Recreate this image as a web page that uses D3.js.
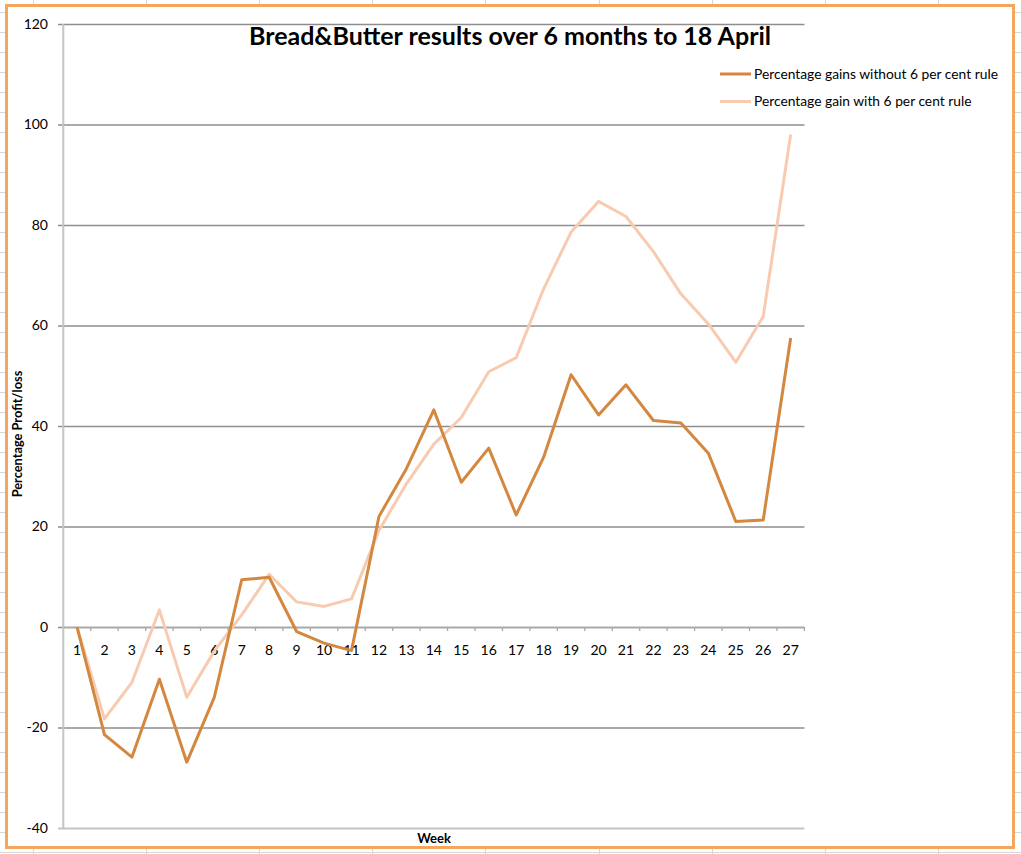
<!DOCTYPE html>
<html>
<head>
<meta charset="utf-8">
<script src="https://cdn.jsdelivr.net/npm/d3@7"></script>
<style>
  body { margin: 0; background: #fff; }
  text { font-family: Lato, "Open Sans", sans-serif; fill: #000; }
</style>
</head>
<body>
<script>
// weeks and the two series
var weeks = d3.range(1, 28);
var gainsWithout = [0, -21.4, -25.9, -10.4, -26.9, -14.0, 9.4, 9.9, -0.9, -3.2, -4.7, 22.0, 31.5, 43.2,
	28.8, 35.6, 22.3, 33.8, 50.2, 42.2, 48.2, 41.1, 40.6, 34.6, 21.0, 21.3, 57.5];
var gainsWith = [0, -18.3, -11.0, 3.4, -14.0, -4.8, 2.4, 10.5, 5.0, 4.1, 5.6, 19.2, 28.5, 36.4,
	41.7, 50.8, 53.6, 67.3, 78.6, 84.7, 81.7, 74.7, 66.3, 60.3, 52.7, 61.8, 98.0];
var yTicks = [-40, -20, 0, 20, 40, 60, 80, 100, 120];
var seriesNames = ["Percentage gains without 6 per cent rule", "Percentage gain with 6 per cent rule"];
var colors = ["#d4873f", "#f8cbb1"];

var width = 1021, height = 854;
var svg = d3.select("body").append("svg")
	.attr("width", width)
	.attr("height", height);

// spreadsheet cells behind the chart
var sheet = svg.append("g").attr("stroke", "#d6d6d6").attr("stroke-width", 1);
for (var gy = 12; gy < height; gy += 20){
	sheet.append("line").attr("x1", 0).attr("x2", width).attr("y1", gy + 0.5).attr("y2", gy + 0.5);
}
for (var gx = 33; gx < width; gx += 113.1){
	sheet.append("line").attr("x1", Math.round(gx) + 0.5).attr("x2", Math.round(gx) + 0.5).attr("y1", 0).attr("y2", height);
}

// chart area
svg.append("rect")
	.attr("x", 6.5).attr("y", 5.5)
	.attr("width", 1007).attr("height", 842)
	.attr("fill", "#fff")
	.attr("stroke", "#f6a55c")
	.attr("stroke-width", 3);

var x = d3.scaleBand().domain(weeks).range([63.3, 804.4]).padding(0);
var y = d3.scaleLinear().domain([-40, 120]).range([828, 24]);
var cx = function(w){ return x(w) + x.bandwidth() / 2; };

// horizontal gridlines and y labels
var yAxis = d3.axisLeft(y).tickValues(yTicks)
	.tickFormat(function(d){ return String(d); })
	.tickSize(-(804.4 - 58)).tickPadding(10);
var yg = svg.append("g").attr("transform", "translate(58,0)").call(yAxis);
yg.select(".domain").remove();
yg.selectAll(".tick line")
	.attr("stroke", function(d){ return d === -40 ? "#c4c4c4" : "#8e8e8e"; })
	.attr("stroke-width", function(d){ return d === -40 ? 2 : 1.3; });
yg.selectAll(".tick text")
	.attr("x", -10)
	.style("font-size", "14px")
	.style("font-family", "Lato, sans-serif");

// vertical axis line
svg.append("line")
	.attr("x1", 63.3).attr("x2", 63.3)
	.attr("y1", y(120)).attr("y2", y(-40))
	.attr("stroke", "#c4c4c4").attr("stroke-width", 2);

// category axis sitting on zero
var xAxis = d3.axisBottom(x).tickSize(0).tickPadding(18);
var xg = svg.append("g").attr("transform", "translate(0," + y(0) + ")").call(xAxis);
xg.select(".domain").attr("stroke", "#a8a8a8").attr("stroke-width", 1.5);
xg.selectAll(".tick text")
	.style("font-size", "14px")
	.style("font-family", "Lato, sans-serif");
svg.append("g").selectAll("line")
	.data(d3.range(1, 28))
	.enter().append("line")
	.attr("x1", function(i){ return 63.3 + i * x.bandwidth(); })
	.attr("x2", function(i){ return 63.3 + i * x.bandwidth(); })
	.attr("y1", y(0)).attr("y2", y(0) + 4)
	.attr("stroke", "#a8a8a8").attr("stroke-width", 1.3);

// series lines
var line = d3.line()
	.x(function(d, i){ return cx(weeks[i]); })
	.y(function(d){ return y(d); });

[gainsWith, gainsWithout].forEach(function(series){
	svg.append("path")
		.datum(series)
		.attr("fill", "none")
		.attr("stroke", series === gainsWithout ? colors[0] : colors[1])
		.attr("stroke-width", 3)
		.attr("stroke-linejoin", "round")
		.attr("d", line);
});

// title
svg.append("text")
	.attr("x", 510).attr("y", 45)
	.attr("text-anchor", "middle")
	.style("font-size", "25px")
	.style("font-weight", "bold")
	.text("Bread&Butter results over 6 months to 18 April");

// legend
var legend = svg.append("g").selectAll("g")
	.data(seriesNames)
	.enter().append("g")
	.attr("transform", function(d, i){ return "translate(720," + (74 + i * 27.5) + ")"; });
legend.append("line")
	.attr("x1", 0).attr("x2", 31)
	.attr("stroke", function(d, i){ return colors[i]; })
	.attr("stroke-width", 3);
legend.append("text")
	.attr("x", 34).attr("dy", "0.35em")
	.style("font-size", "13.8px")
	.text(function(d){ return d; });

// axis titles
svg.append("text")
	.attr("transform", "translate(22,434) rotate(-90)")
	.attr("text-anchor", "middle")
	.style("font-size", "12.8px")
	.style("font-weight", "bold")
	.text("Percentage Profit/loss");

svg.append("text")
	.attr("x", 434).attr("y", 843)
	.attr("text-anchor", "middle")
	.style("font-size", "13px")
	.style("font-weight", "bold")
	.text("Week");
</script>
</body>
</html>
